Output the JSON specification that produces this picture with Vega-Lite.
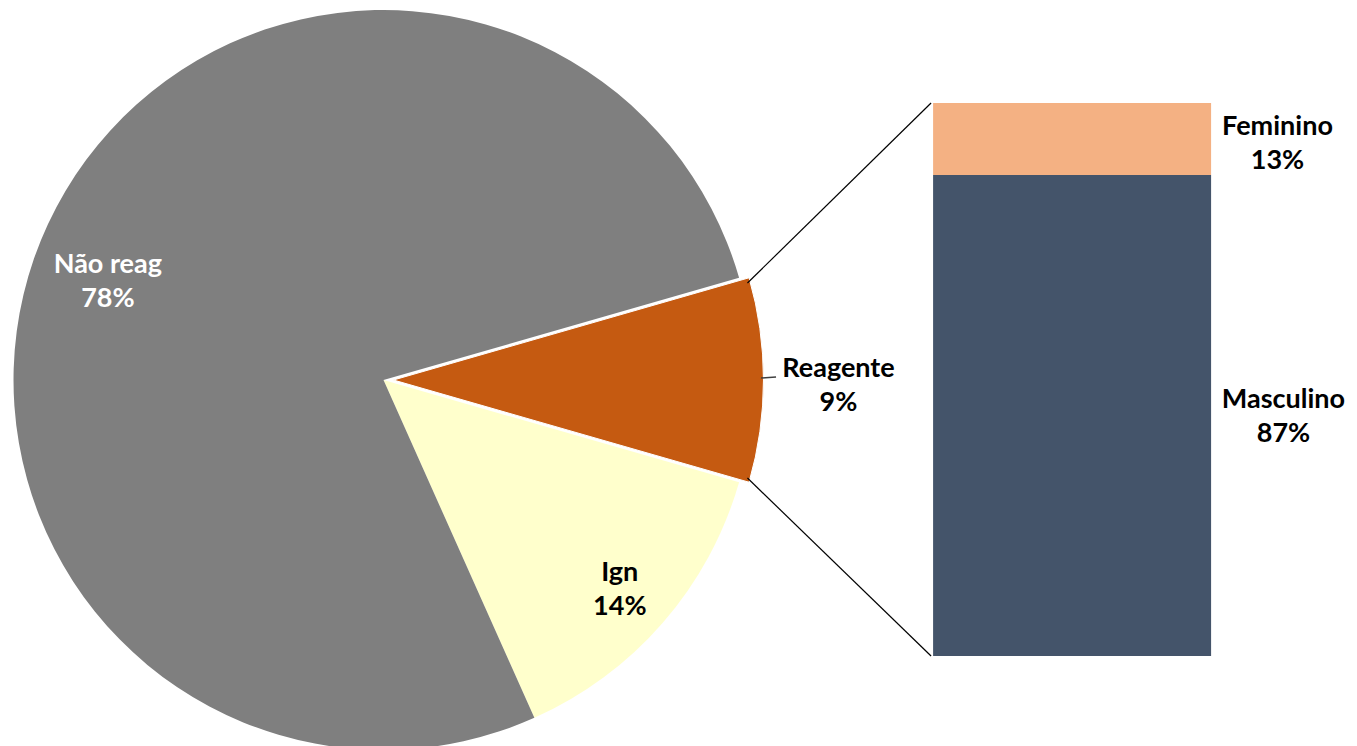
{
  "$schema": "https://vega.github.io/schema/vega-lite/v6.json",
  "width": 1357,
  "height": 746,
  "autosize": {"type": "none"},
  "padding": 0,
  "background": "white",
  "datasets": {
    "pie": [
      {"name": "Reagente", "v": 9, "o": 1, "label": "Reagente\n9%"},
      {"name": "Ign", "v": 14, "o": 2, "label": "Ign\n14%"},
      {"name": "Não reag", "v": 78, "o": 3, "label": "Não reag\n78%"}
    ],
    "bar": [
      {"name": "Masculino", "v": 87, "o": 1, "label": "Masculino\n87%"},
      {"name": "Feminino", "v": 13, "o": 2, "label": "Feminino\n13%"}
    ],
    "one": [{}]
  },
  "layer": [
    {
      "data": {"name": "pie"},
      "mark": {"type": "arc", "outerRadius": 370},
      "encoding": {
        "x": {"datum": 28.1, "type": "quantitative", "scale": {"domain": [0, 100], "nice": false, "zero": false}},
        "y": {"datum": 49.91, "type": "quantitative", "scale": {"domain": [-16.27, 118.63], "nice": false, "zero": false}},
        "theta": {"field": "v", "type": "quantitative", "stack": true, "scale": {"range": [1.2908, 7.574]}},
        "order": {"field": "o", "type": "quantitative"},
        "color": {"field": "name", "type": "nominal", "legend": null,
          "scale": {"domain": ["Não reag", "Reagente", "Ign", "Masculino", "Feminino"],
                    "range": ["#7f7f7f", "#c55a11", "#ffffcc", "#44546a", "#f4b183"]}},
        "opacity": {"condition": {"test": "datum.name === 'Reagente'", "value": 0}, "value": 1}
      }
    },
    {
      "data": {"name": "pie"},
      "mark": {"type": "arc", "outerRadius": 370, "stroke": "white", "strokeWidth": 1},
      "encoding": {
        "x": {"datum": 28.84, "type": "quantitative"},
        "y": {"datum": 49.91, "type": "quantitative"},
        "theta": {"field": "v", "type": "quantitative", "stack": true},
        "order": {"field": "o", "type": "quantitative"},
        "color": {"field": "name", "type": "nominal", "legend": null},
        "opacity": {"condition": {"test": "datum.name === 'Reagente'", "value": 1}, "value": 0}
      }
    },
    {
      "data": {"name": "pie"},
      "mark": {"type": "text", "radius": 293, "dx": -10, "dy": 9, "font": "Lato", "fontWeight": "bold", "fontSize": 27, "lineHeight": 34, "lineBreak": "\n", "align": "center", "baseline": "middle", "fill": "white"},
      "encoding": {
        "x": {"datum": 28.1, "type": "quantitative"},
        "y": {"datum": 49.91, "type": "quantitative"},
        "theta": {"field": "v", "type": "quantitative", "stack": true},
        "order": {"field": "o", "type": "quantitative"},
        "detail": {"field": "name", "type": "nominal"},
        "text": {"condition": {"test": "datum.name === 'Não reag'", "field": "label"}, "value": ""}
      }
    },
    {
      "data": {"name": "pie"},
      "mark": {"type": "text", "radius": 313, "dy": -12, "font": "Lato", "fontWeight": "bold", "fontSize": 27, "lineHeight": 34, "lineBreak": "\n", "align": "center", "baseline": "middle", "fill": "black"},
      "encoding": {
        "x": {"datum": 28.1, "type": "quantitative"},
        "y": {"datum": 49.91, "type": "quantitative"},
        "theta": {"field": "v", "type": "quantitative", "stack": true},
        "order": {"field": "o", "type": "quantitative"},
        "detail": {"field": "name", "type": "nominal"},
        "text": {"condition": {"test": "datum.name === 'Ign'", "field": "label"}, "value": ""}
      }
    },
    {
      "data": {"name": "pie"},
      "mark": {"type": "text", "radius": 455, "dy": -11, "font": "Lato", "fontWeight": "bold", "fontSize": 27, "lineHeight": 34, "lineBreak": "\n", "align": "center", "baseline": "middle", "fill": "black"},
      "encoding": {
        "x": {"datum": 28.1, "type": "quantitative"},
        "y": {"datum": 49.91, "type": "quantitative"},
        "theta": {"field": "v", "type": "quantitative", "stack": true},
        "order": {"field": "o", "type": "quantitative"},
        "detail": {"field": "name", "type": "nominal"},
        "text": {"condition": {"test": "datum.name === 'Reagente'", "field": "label"}, "value": ""}
      }
    },
    {
      "data": {"name": "one"},
      "mark": {"type": "rule", "color": "#404040", "strokeWidth": 1.5},
      "encoding": {
        "x": {"datum": 56.13, "type": "quantitative"},
        "y": {"datum": 50.27, "type": "quantitative"},
        "x2": {"datum": 57.24},
        "y2": {"datum": 50.45}
      }
    },
    {
      "data": {"name": "one"},
      "mark": {"type": "rule", "color": "black", "strokeWidth": 1.2},
      "encoding": {
        "x": {"datum": 55.12, "type": "quantitative"},
        "y": {"datum": 67.45, "type": "quantitative"},
        "x2": {"datum": 68.75},
        "y2": {"datum": 100}
      }
    },
    {
      "data": {"name": "one"},
      "mark": {"type": "rule", "color": "black", "strokeWidth": 1.2},
      "encoding": {
        "x": {"datum": 55.12, "type": "quantitative"},
        "y": {"datum": 32.19, "type": "quantitative"},
        "x2": {"datum": 68.75},
        "y2": {"datum": 0}
      }
    },
    {
      "data": {"name": "bar"},
      "mark": {"type": "bar", "width": 278, "orient": "vertical"},
      "encoding": {
        "x": {"datum": 79.22, "type": "quantitative"},
        "y": {"field": "v", "type": "quantitative", "stack": "zero"},
        "order": {"field": "o", "type": "quantitative"},
        "color": {"field": "name", "type": "nominal", "legend": null}
      }
    },
    {
      "data": {"name": "bar"},
      "mark": {"type": "text", "dy": 24, "font": "Lato", "fontWeight": "bold", "fontSize": 27, "lineHeight": 34, "lineBreak": "\n", "align": "center", "baseline": "middle", "fill": "black"},
      "encoding": {
        "x": {"datum": 94.47, "type": "quantitative"},
        "y": {"field": "v", "type": "quantitative", "stack": "zero"},
        "order": {"field": "o", "type": "quantitative"},
        "detail": {"field": "name", "type": "nominal"},
        "text": {"condition": {"test": "datum.name === 'Feminino'", "field": "label"}, "value": ""}
      }
    },
    {
      "data": {"name": "bar"},
      "mark": {"type": "text", "dy": 225, "font": "Lato", "fontWeight": "bold", "fontSize": 27, "lineHeight": 34, "lineBreak": "\n", "align": "center", "baseline": "middle", "fill": "black"},
      "encoding": {
        "x": {"datum": 94.91, "type": "quantitative"},
        "y": {"field": "v", "type": "quantitative", "stack": "zero"},
        "order": {"field": "o", "type": "quantitative"},
        "detail": {"field": "name", "type": "nominal"},
        "text": {"condition": {"test": "datum.name === 'Masculino'", "field": "label"}, "value": ""}
      }
    }
  ],
  "config": {
    "view": {"stroke": null},
    "axis": {"disable": true},
    "legend": {"disable": true}
  }
}
